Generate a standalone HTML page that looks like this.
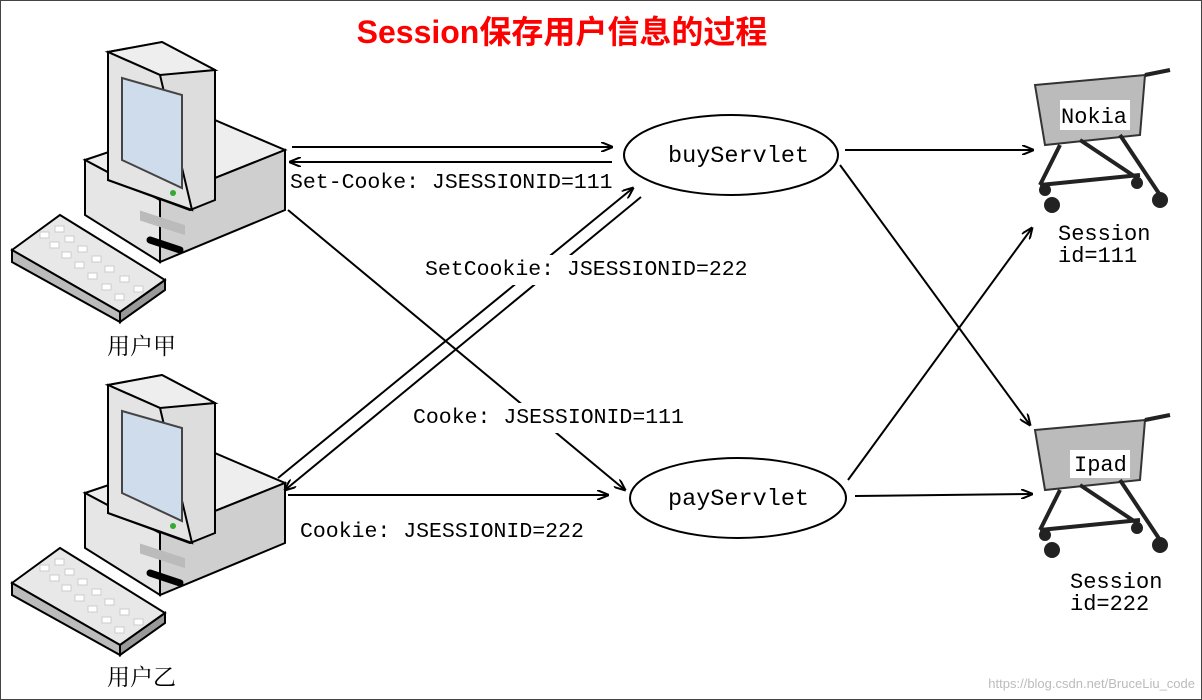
<!DOCTYPE html>
<html><head><meta charset="utf-8"><style>
html,body{margin:0;padding:0;background:#fff;}
svg{display:block;}
.t{font-family:"Liberation Mono","Noto Serif CJK SC",monospace;fill:#000;}
</style></head><body>
<svg width="1202" height="700" viewBox="0 0 1202 700" xmlns="http://www.w3.org/2000/svg">
<defs>
<marker id="a" viewBox="0 0 12 10" refX="11" refY="5" markerWidth="12" markerHeight="10" markerUnits="userSpaceOnUse" orient="auto">
<path d="M0,0 L12,5 L0,10" fill="none" stroke="#000" stroke-width="2"/>
</marker>
<g id="pc">
<polygon points="12,250 60,215 165,280 120,312" fill="#e8e8e8" stroke="#000" stroke-width="2"/>
<polygon points="12,250 120,312 120,322 12,262" fill="#bbb" stroke="#000" stroke-width="2"/>
<polygon points="120,312 165,280 165,290 120,322" fill="#999" stroke="#000" stroke-width="2"/>
<g fill="#fff" stroke="#ccc">
<rect x="40" y="232" width="9" height="6"/><rect x="55" y="226" width="9" height="6"/><rect x="50" y="242" width="9" height="6"/><rect x="65" y="236" width="9" height="6"/><rect x="62" y="252" width="9" height="6"/><rect x="78" y="246" width="9" height="6"/><rect x="75" y="262" width="9" height="6"/><rect x="92" y="256" width="9" height="6"/><rect x="88" y="273" width="9" height="6"/><rect x="105" y="266" width="9" height="6"/><rect x="102" y="284" width="9" height="6"/><rect x="120" y="276" width="9" height="6"/><rect x="115" y="294" width="9" height="6"/><rect x="134" y="286" width="9" height="6"/>
</g>
<polygon points="85,160 210,118 285,150 160,200" fill="#eee" stroke="#000" stroke-width="2"/>
<polygon points="85,160 160,200 160,262 85,215" fill="#e6e6e6" stroke="#000" stroke-width="2"/>
<polygon points="160,200 285,150 285,210 160,262" fill="#cfcfcf" stroke="#000" stroke-width="2"/>
<rect x="140" y="212" width="45" height="10" fill="#bbb" transform="skewY(18) translate(0,-47)"/>
<path d="M150,240 L180,250" stroke="#000" stroke-width="7" stroke-linecap="round"/>
<polygon points="108,52 162,42 215,70 215,200 190,210 108,180" fill="#ddd" stroke="#000" stroke-width="2"/>
<polygon points="108,52 162,42 215,70 160,75" fill="#eee" stroke="#000" stroke-width="2"/>
<polygon points="108,52 160,75 192,210 108,180" fill="#e4e4e4" stroke="#000" stroke-width="2"/>
<polygon points="122,78 182,95 182,188 122,160" fill="#cfdceb" stroke="#444" stroke-width="2"/>
<circle cx="173" cy="193" r="3" fill="#3a3"/>
</g>
<g id="cart">
<polygon points="1035,85 1145,75 1140,135 1045,145" fill="#bbb" stroke="#333" stroke-width="2"/>
<path d="M1145,75 L1170,70 M1060,145 L1040,185 M1120,135 L1160,195 M1080,140 L1140,180 M1040,185 L1140,175" stroke="#222" stroke-width="4" fill="none"/>
<circle cx="1052" cy="205" r="8" fill="#222"/><circle cx="1160" cy="200" r="8" fill="#222"/><circle cx="1137" cy="183" r="6" fill="#222"/><circle cx="1045" cy="190" r="6" fill="#222"/>
</g>
</defs>
<rect x="0.5" y="0.5" width="1201" height="699" fill="#fff" stroke="#444"/>
<text x="562" y="43" text-anchor="middle" font-family="Liberation Sans,'Noto Sans CJK SC',sans-serif" font-weight="bold" font-size="32" fill="#f00">Session保存用户信息的过程</text>

<use href="#pc"/>
<use href="#pc" transform="translate(0,333)"/>
<text x="107" y="354" class="t" font-size="23" font-family="'Noto Sans CJK SC',sans-serif">用户甲</text>
<text x="107" y="685" class="t" font-size="23" font-family="'Noto Sans CJK SC',sans-serif">用户乙</text>

<use href="#cart"/>
<use href="#cart" transform="translate(0,345)"/>
<rect x="1060" y="100" width="70" height="30" fill="#fff"/>
<text x="1061" y="123" class="t" font-size="22">Nokia</text>
<rect x="1070" y="450" width="60" height="28" fill="#fff"/>
<text x="1074" y="471" class="t" font-size="22">Ipad</text>
<text x="1058" y="240" class="t" font-size="22">Session</text>
<text x="1058" y="262" class="t" font-size="22">id=111</text>
<text x="1070" y="588" class="t" font-size="22">Session</text>
<text x="1070" y="610" class="t" font-size="22">id=222</text>

<ellipse cx="731" cy="155" rx="107" ry="40" fill="#fff" stroke="#000" stroke-width="2"/>
<ellipse cx="738" cy="498" rx="108" ry="40" fill="#fff" stroke="#000" stroke-width="2"/>
<text x="668" y="162" class="t" font-size="23.5">buyServlet</text>
<text x="668" y="505" class="t" font-size="23.5">payServlet</text>

<g stroke="#000" stroke-width="2" fill="none" marker-end="url(#a)">
<line x1="292" y1="147" x2="612" y2="147"/>
<line x1="612" y1="162" x2="290" y2="162"/>
<line x1="288" y1="210" x2="625" y2="490"/>
<line x1="278" y1="478" x2="633" y2="188"/>
<line x1="641" y1="197" x2="285" y2="490"/>
<line x1="288" y1="495" x2="608" y2="495"/>
<line x1="845" y1="150" x2="1033" y2="150"/>
<line x1="840" y1="165" x2="1030" y2="425"/>
<line x1="848" y1="480" x2="1032" y2="228"/>
<line x1="855" y1="496" x2="1032" y2="494"/>
</g>
<rect x="420" y="255" width="335" height="30" fill="#fff"/>
<rect x="410" y="403" width="280" height="30" fill="#fff"/>
<text x="290" y="188" class="t" font-size="21.5">Set-Cooke: JSESSIONID=111</text>
<text x="425" y="275" class="t" font-size="21.5">SetCookie: JSESSIONID=222</text>
<text x="413" y="423" class="t" font-size="21.5">Cooke: JSESSIONID=111</text>
<text x="300" y="537" class="t" font-size="21.5">Cookie: JSESSIONID=222</text>
<text x="1195" y="688" text-anchor="end" font-family="Liberation Sans,sans-serif" font-size="13" fill="#bbb">https://blog.csdn.net/BruceLiu_code</text>
</svg>
</body></html>
